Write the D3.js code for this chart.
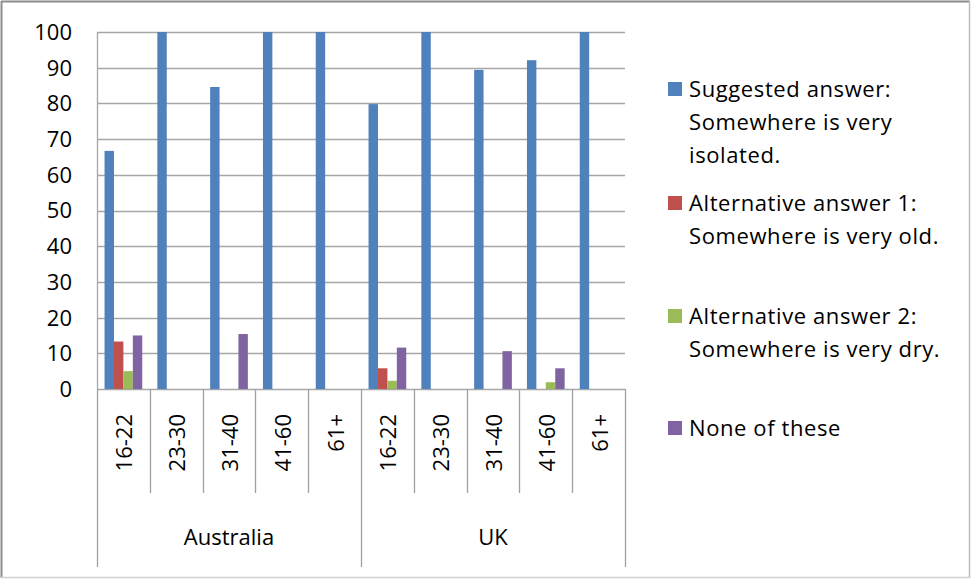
<!DOCTYPE html>
<html>
<head>
<meta charset="utf-8">
<script src="https://cdn.jsdelivr.net/npm/d3@7"></script>
<style>
  body { margin: 0; background: #fff; }
  text { font-family: "Open Sans", sans-serif; fill: #000; }
</style>
</head>
<body>
<script>
// Chart data

let countries = ["Australia", "UK"];
let ageGroups = ["16-22", "23-30", "31-40", "41-60", "61+"];
let seriesNames = [
  "Suggested answer: Somewhere is very isolated.",
  "Alternative answer 1: Somewhere is very old.",
  "Alternative answer 2: Somewhere is very dry.",
  "None of these"
];
let legendLines = [
  ["Suggested answer:", "Somewhere is very", "isolated."],
  ["Alternative answer 1:", "Somewhere is very old."],
  ["Alternative answer 2:", "Somewhere is very dry."],
  ["None of these"]
];
let seriesColors = ["#4f81bd", "#c0504d", "#9bbb59", "#8064a2"];

// values per series, Australia ages then UK ages
let suggested    = [66.7, 100, 84.6, 100, 100, 79.8, 100, 89.4, 92.1, 100];
let alternative1 = [13.3, 0, 0, 0, 0, 5.8, 0, 0, 0, 0];
let alternative2 = [5, 0, 0, 0, 0, 2.3, 0, 0, 1.9, 0];
let noneOfThese  = [15, 0, 15.4, 0, 0, 11.6, 0, 10.6, 5.8, 0];
let yTicks = [0, 10, 20, 30, 40, 50, 60, 70, 80, 90, 100];

let allSeries = [suggested, alternative1, alternative2, noneOfThese];

// Set up the chart parameters

let svgWidth = 971;
let svgHeight = 579;

let plot = { left: 97, right: 625, top: 32, bottom: 389 };

let svg = d3.select("body")
  .append("svg")
  .attr("width", svgWidth)
  .attr("height", svgHeight);

// outer frame
svg.append("line").attr("x1", 1).attr("x2", 970).attr("y1", 1.5).attr("y2", 1.5)
  .attr("stroke", "#8c8c8c").attr("stroke-width", 2);
svg.append("line").attr("x1", 1.5).attr("x2", 1.5).attr("y1", 1).attr("y2", 578)
  .attr("stroke", "#8c8c8c").attr("stroke-width", 2);
svg.append("line").attr("x1", 969.5).attr("x2", 969.5).attr("y1", 1).attr("y2", 578)
  .attr("stroke", "#bdbdbd").attr("stroke-width", 1.5);
svg.append("line").attr("x1", 1).attr("x2", 970).attr("y1", 577.5).attr("y2", 577.5)
  .attr("stroke", "#cfcfcf").attr("stroke-width", 1.5);

// flat category list
let cats = [];
countries.forEach(c => ageGroups.forEach(a => cats.push(c + "|" + a)));

let x = d3.scaleBand()
  .domain(cats)
  .range([plot.left, plot.right])
  .padding(0);

let xSub = d3.scaleBand()
  .domain(d3.range(seriesNames.length))
  .range([0, x.bandwidth()])
  .paddingInner(0)
  .paddingOuter(0.8);

let y = d3.scaleLinear()
  .domain([0, 100])
  .range([plot.bottom, plot.top]);

// gridlines
svg.append("g")
  .selectAll("line")
  .data(yTicks)
  .enter().append("line")
  .attr("x1", plot.left)
  .attr("x2", plot.right)
  .attr("y1", d => Math.round(y(d)) + 0.5)
  .attr("y2", d => Math.round(y(d)) + 0.5)
  .attr("stroke", "#a6a6a6")
  .attr("stroke-width", 1.3);

// y labels
svg.append("g")
  .selectAll("text")
  .data(yTicks)
  .enter().append("text")
  .attr("x", 72)
  .attr("y", d => y(d))
  .attr("dy", "0.36em")
  .attr("text-anchor", "end")
  .attr("font-size", 22)
  .text(d => d);

// bars
allSeries.forEach(function(values, si) {
  svg.append("g")
    .selectAll("rect")
    .data(values.map((v, i) => ({ cat: cats[i], v: v })).filter(d => d.v > 0))
    .enter().append("rect")
    .attr("x", d => x(d.cat) + xSub(si))
    .attr("width", xSub.bandwidth())
    .attr("y", d => y(d.v))
    .attr("height", d => y(0) - y(d.v))
    .attr("fill", seriesColors[si]);
});

// left axis line
svg.append("line")
  .attr("x1", plot.left + 0.5).attr("x2", plot.left + 0.5)
  .attr("y1", plot.top).attr("y2", plot.bottom)
  .attr("stroke", "#a6a6a6").attr("stroke-width", 1.3);

// category dividers
let lineColor = "#a0a0a0";
let boundaries = d3.range(cats.length + 1);
svg.append("g")
  .selectAll("line")
  .data(boundaries)
  .enter().append("line")
  .attr("x1", i => Math.round(plot.left + i * x.step()) + 0.5)
  .attr("x2", i => Math.round(plot.left + i * x.step()) + 0.5)
  .attr("y1", plot.bottom)
  .attr("y2", i => (i % ageGroups.length === 0) ? 567 : 493)
  .attr("stroke", lineColor)
  .attr("stroke-width", 1.3);

// age labels
svg.append("g")
  .selectAll("text")
  .data(cats)
  .enter().append("text")
  .attr("transform", d => `translate(${x(d) + x.bandwidth() / 2 + 1}, 414) rotate(-90)`)
  .attr("text-anchor", "end")
  .attr("dy", "0.36em")
  .attr("font-size", 22)
  .text(d => d.split("|")[1]);

// country labels
svg.append("g")
  .selectAll("text")
  .data(countries)
  .enter().append("text")
  .attr("x", (d, i) => plot.left + (i + 0.5) * ageGroups.length * x.step())
  .attr("y", 537)
  .attr("dy", "0.36em")
  .attr("text-anchor", "middle")
  .attr("font-size", 22)
  .text(d => d);

// legend
let legendTops = [89, 203, 316, 428];
let legend = svg.append("g");
legendLines.forEach(function(lines, i) {
  legend.append("rect")
    .attr("x", 668)
    .attr("y", legendTops[i] - 7)
    .attr("width", 14)
    .attr("height", 14)
    .attr("fill", seriesColors[i]);
  lines.forEach(function(line, j) {
    legend.append("text")
      .attr("x", 689)
      .attr("y", legendTops[i] + j * 33)
      .attr("dy", "0.36em")
      .attr("font-size", 22)
      .attr("letter-spacing", 0.6)
      .text(line);
  });
});
</script>
</body>
</html>
